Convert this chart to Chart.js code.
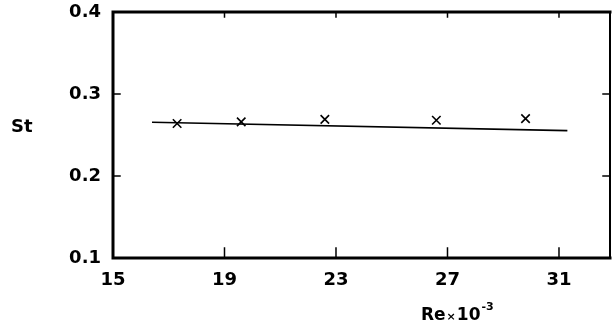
<!DOCTYPE html>
<html>
<head>
<meta charset="utf-8">
<script src="https://cdn.jsdelivr.net/npm/chart.js@4.4.1/dist/chart.umd.min.js"></script>
<style>
  html, body { margin: 0; padding: 0; background: #fff; }
  #wrap { width: 613px; height: 325px; position: relative; }
</style>
</head>
<body>
<div id="wrap"><canvas id="c"></canvas></div>
<script>
// data
const reValues = [17.3, 19.6, 22.6, 26.6, 29.8]
const stValues = [0.264, 0.266, 0.269, 0.268, 0.270]
const fitRe = [16.4, 31.3]
const fitSt = [0.2655, 0.2553]
const xTicks = [15, 19, 23, 27, 31]
const yTicks = [0.1, 0.2, 0.3, 0.4]

const FONT = "'DejaVu Sans', sans-serif"

// frame + inward ticks + axis titles
const framePlugin = {
  id: 'frame',
  afterDraw(chart) {
    const { ctx, chartArea: a, scales } = chart
    ctx.save()
    ctx.strokeStyle = '#000'
    ctx.lineCap = 'square'
    ctx.lineWidth = 3
    ctx.beginPath()
    ctx.moveTo(a.right, a.top)
    ctx.lineTo(a.left, a.top)
    ctx.lineTo(a.left, a.bottom)
    ctx.lineTo(a.right, a.bottom)
    ctx.stroke()
    ctx.lineWidth = 2
    ctx.beginPath()
    ctx.moveTo(a.right, a.top)
    ctx.lineTo(a.right, a.bottom)
    ctx.stroke()

    ctx.lineWidth = 1.5
    ctx.beginPath()
    xTicks.slice(1).forEach(v => {
      const x = scales.x.getPixelForValue(v)
      ctx.moveTo(x, a.bottom); ctx.lineTo(x, a.bottom - 10)
      ctx.moveTo(x, a.top); ctx.lineTo(x, a.top + 5)
    })
    yTicks.slice(1, -1).forEach(v => {
      const y = scales.y.getPixelForValue(v)
      ctx.moveTo(a.left, y); ctx.lineTo(a.left + 7, y)
      ctx.moveTo(a.right, y); ctx.lineTo(a.right - 7, y)
    })
    ctx.stroke()

    // titles
    ctx.fillStyle = '#000'
    ctx.textBaseline = 'middle'
    ctx.font = 'bold 18px ' + FONT
    ctx.textAlign = 'left'
    ctx.fillText('St', 11, 127)

    ctx.textBaseline = 'alphabetic'
    let x = 421
    const base = 320
    ctx.font = 'bold 17px ' + FONT
    ctx.fillText('Re', x, base); x += ctx.measureText('Re').width + 1
    ctx.font = 'bold 11px ' + FONT
    ctx.fillText('×', x, base); x += ctx.measureText('×').width + 1
    ctx.font = 'bold 17px ' + FONT
    ctx.fillText('10', x, base); x += ctx.measureText('10').width + 1
    ctx.font = 'bold 11px ' + FONT
    ctx.fillText('-3', x, base - 10)
    ctx.restore()
  }
}

new Chart(document.getElementById('c'), {
  type: 'scatter',
  data: {
    datasets: [
      {
        label: 'St',
        data: reValues.map((v, i) => ({ x: v, y: stValues[i] })),
        pointStyle: 'crossRot',
        pointRadius: 6,
        borderColor: '#000',
        borderWidth: 1.6,
        showLine: false
      },
      {
        label: 'fit',
        data: fitRe.map((v, i) => ({ x: v, y: fitSt[i] })),
        showLine: true,
        pointRadius: 0,
        borderColor: '#000',
        borderWidth: 1.6
      }
    ]
  },
  options: {
    responsive: true,
    maintainAspectRatio: false,
    animation: false,
    layout: { autoPadding: false, padding: { top: 12, right: 3, bottom: 27, left: 0 } },
    plugins: { legend: { display: false }, tooltip: { enabled: false } },
    scales: {
      x: {
        type: 'linear',
        min: 15,
        max: 32.83,
        afterBuildTicks: s => { s.ticks = xTicks.map(v => ({ value: v })) },
        afterFit: s => { s.height = 40; s.paddingLeft = 0; s.paddingRight = 0 },
        grid: { display: false, drawTicks: false },
        border: { display: false },
        ticks: {
          color: '#000',
          padding: 12,
          maxRotation: 0,
          font: { family: FONT, size: 18, weight: 'bold' },
          callback: v => String(v)
        }
      },
      y: {
        type: 'linear',
        min: 0.1,
        max: 0.4,
        afterBuildTicks: s => { s.ticks = yTicks.map(v => ({ value: v })) },
        afterFit: s => { s.width = 113; s.paddingTop = 0; s.paddingBottom = 0 },
        grid: { display: false, drawTicks: false },
        border: { display: false },
        ticks: {
          color: '#000',
          padding: 12,
          font: { family: FONT, size: 18, weight: 'bold' },
          callback: v => Number(v).toFixed(1)
        }
      }
    }
  },
  plugins: [framePlugin]
})
</script>
</body>
</html>
